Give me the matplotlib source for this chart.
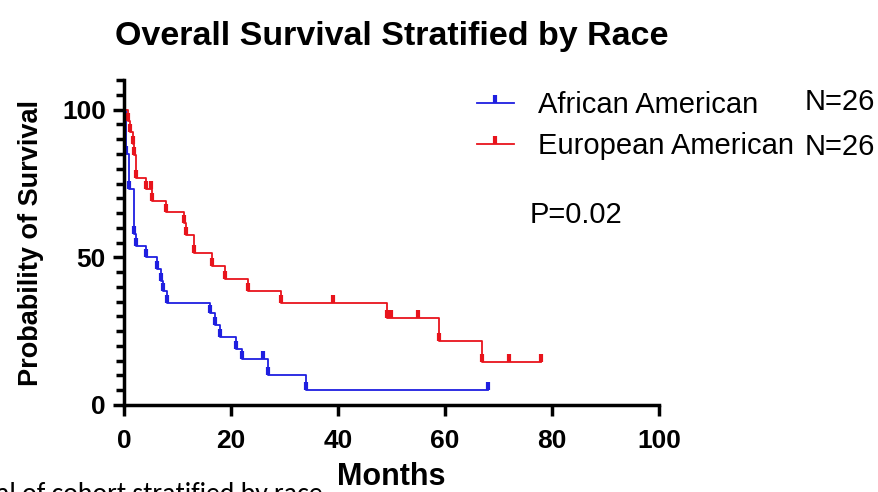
import matplotlib.pyplot as plt
from matplotlib.lines import Line2D
from matplotlib.ticker import MultipleLocator

# survival curves (months, % surviving)
aa_months = [0, 0.4, 1.0, 1.9, 2.3, 4.2, 6.1, 7.0, 7.3, 8.1, 16.1, 17.0, 18.0, 21.0, 22.0, 27.0, 34.0, 68.0]
aa_surv = [100, 85, 73, 58, 54, 50, 46, 42, 38.5, 34.6, 31, 27, 23, 19, 15.4, 10.3, 5.2, 5.2]
aa_tick_months = [0.4, 1.0, 1.9, 2.3, 4.2, 6.1, 7.0, 7.3, 8.1, 16.1, 17.0, 18.0, 21.0, 22.0, 26.0, 27.0, 34.0, 68.0]
aa_tick_surv = [85, 73, 58, 54, 50, 46, 42, 38.5, 34.6, 31, 27, 23, 19, 15.4, 15.4, 10.3, 5.2, 5.2]

ea_months = [0, 0.8, 1.2, 1.6, 1.8, 2.2, 4.2, 5.2, 7.9, 11.2, 11.6, 13.1, 16.4, 18.9, 23.1, 29.4, 49.1, 58.9, 66.8, 78.0]
ea_surv = [100, 96.2, 92.3, 88.5, 84.6, 76.9, 73.1, 69.2, 65.4, 61.5, 57.7, 51.5, 47.2, 42.8, 38.7, 34.4, 29.5, 21.5, 14.5, 14.5]
ea_tick_months = [0.8, 1.2, 1.6, 1.8, 2.2, 4.2, 5.0, 5.2, 7.9, 11.2, 11.6, 13.1, 16.4, 18.9, 23.1, 29.4, 39.0,
                  49.1, 49.9, 55.0, 58.9, 66.8, 72.0, 78.0]
ea_tick_surv = [96.2, 92.3, 88.5, 84.6, 76.9, 73.1, 73.1, 69.2, 65.4, 61.5, 57.7, 51.5, 47.2, 42.8, 38.7, 34.4, 34.4,
                29.5, 29.5, 29.5, 21.5, 14.5, 14.5, 14.5]

groups = ['African American', 'European American']
group_n = [26, 26]
p_value = 'P=0.02'
blue = '#1f1fe0'
red = '#e8141c'

plt.rcParams['font.family'] = ['Liberation Sans', 'DejaVu Sans']

fig = plt.figure(figsize=(8.79, 4.92), dpi=100)
ax = fig.add_axes([0.141, 0.177, 0.609, 0.660])

ax.step(aa_months, aa_surv, where='post', color=blue, lw=1.3)
ax.plot(aa_tick_months, aa_tick_surv, ls='none', marker=2, ms=6, mew=3, color=blue)
ax.step(ea_months, ea_surv, where='post', color=red, lw=1.3)
ax.plot(ea_tick_months, ea_tick_surv, ls='none', marker=2, ms=6, mew=3, color=red)

ax.set_xlim(0, 100)
ax.set_ylim(0, 110)
ax.xaxis.set_major_locator(MultipleLocator(20))
ax.yaxis.set_major_locator(MultipleLocator(50))
ax.yaxis.set_minor_locator(MultipleLocator(5))
for s in ['top', 'right']:
    ax.spines[s].set_visible(False)
for s in ['left', 'bottom']:
    ax.spines[s].set_linewidth(2.5)
ax.tick_params(which='major', length=8, width=2.5, labelsize=19)
ax.tick_params(axis='x', pad=9)
ax.tick_params(axis='y', pad=5)
ax.tick_params(which='minor', length=6, width=2.5)
for lab in ax.get_xticklabels() + ax.get_yticklabels():
    lab.set_fontweight('bold')

ax.set_xlabel('Months', fontsize=22, fontweight='bold', labelpad=7)
ax.set_ylabel('Probability of Survival', fontsize=19.5, fontweight='bold', labelpad=13)
fig.suptitle('Overall Survival Stratified by Race', x=0.446, y=0.958, fontsize=24.5, fontweight='bold')

handles = [Line2D([], [], color=blue, lw=1.3, marker=2, ms=6, mew=3),
           Line2D([], [], color=red, lw=1.3, marker=2, ms=6, mew=3)]
ax.legend(handles, groups, loc='upper left', bbox_to_anchor=(0.513, 0.868), bbox_transform=fig.transFigure,
          frameon=False, fontsize=21, handlelength=1.25, handletextpad=0.85, labelspacing=0.45)
fig.text(0.915, 0.793, 'N=%d' % group_n[0], fontsize=21, va='center')
fig.text(0.915, 0.702, 'N=%d' % group_n[1], fontsize=21, va='center')
fig.text(0.603, 0.563, p_value, fontsize=21, va='center')

# caption fragment cut off at the bottom edge of the screenshot
fig.text(-0.004, -0.03, 'al of cohort stratified by race', fontsize=20, family=['Carlito', 'Liberation Sans'],
         va='bottom')

fig.savefig('out.png', dpi=100)
